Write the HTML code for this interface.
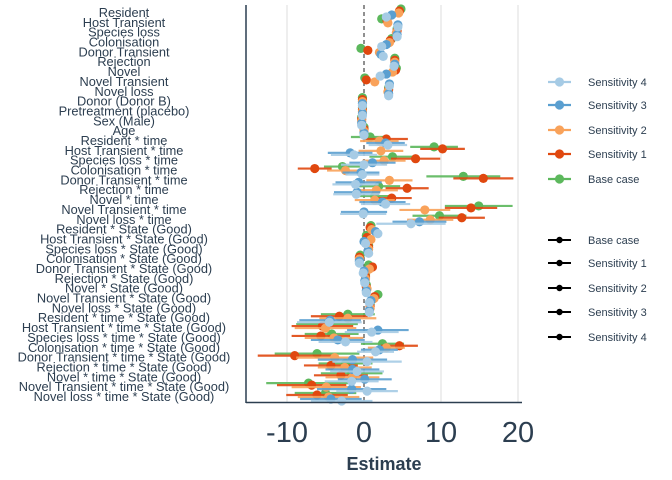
<!DOCTYPE html>
<html><head><meta charset="utf-8"><style>
body{margin:0;background:#fff;}
svg{display:block;font-family:"Liberation Sans",sans-serif;}
</style></head><body>
<svg id="chart" width="672" height="480" viewBox="0 0 672 480">
<g id="grid"></g><g id="marks"></g><g id="ylabels"></g><g id="xaxis"></g><g id="legend"></g>
</svg>
<script>
const terms = ["Resident","Host Transient","Species loss","Colonisation","Donor Transient","Rejection","Novel","Novel Transient","Novel loss","Donor (Donor B)","Pretreatment (placebo)","Sex (Male)","Age",
"Resident * time","Host Transient * time","Species loss * time","Colonisation * time","Donor Transient * time","Rejection * time","Novel * time","Novel Transient * time","Novel loss * time",
"Resident * State (Good)","Host Transient * State (Good)","Species loss * State (Good)","Colonisation * State (Good)","Donor Transient * State (Good)","Rejection * State (Good)","Novel * State (Good)","Novel Transient * State (Good)","Novel loss * State (Good)",
"Resident * time * State (Good)","Host Transient * time * State (Good)","Species loss * time * State (Good)","Colonisation * time * State (Good)","Donor Transient * time * State (Good)","Rejection * time * State (Good)","Novel * time * State (Good)","Novel Transient * time * State (Good)","Novel loss * time * State (Good)"];
const seriesNames = ["Base case","Sensitivity 1","Sensitivity 2","Sensitivity 3","Sensitivity 4"];
const baseEst = [4.8,2.3,4.3,3.6,-0.4,4.0,4.2,0.1,3.2,-0.2,-0.2,-0.3,0.0, 0.8,9.1,3.7,-2.8,12.9,1.9,1.4,14.9,9.8, 0.9,0.3,0.6,-0.5,0.6,0.2,0.3,1.8,0.8, -2.1,-4.8,-4.2,2.4,-6.1,-2.4,-1.6,-7.2,-5.0];
const s1Est = [4.6,3.0,4.3,3.4,0.5,4.0,4.1,0.3,3.2,-0.2,-0.2,-0.3,0.0, 2.9,10.2,6.7,-6.4,15.5,5.6,3.6,13.9,12.7, 0.8,0.4,0.6,-0.6,1.1,0.2,0.3,1.4,0.8, -3.2,-5.4,-5.6,4.6,-9.0,-4.3,-3.0,-6.8,-6.1];
const s2Est = [4.5,3.1,4.2,3.3,2.0,4.0,3.7,1.4,3.1,-0.2,-0.2,-0.3,0.0, 2.0,2.2,2.6,-2.4,3.3,1.6,1.4,7.9,8.6, 1.0,0.9,0.6,-0.6,0.7,0.2,0.4,1.3,0.8, -2.1,-5.0,-3.9,2.9,-3.8,-2.5,-1.5,-4.9,-4.6];
const s3Est = [3.6,4.4,4.3,2.9,2.2,4.0,2.9,3.3,3.2,-0.2,-0.2,-0.3,0.0, 2.8,-1.8,1.1,-0.4,-0.7,-0.9,2.4,0.0,7.2, 1.5,0.0,0.5,-0.6,0.0,0.1,0.3,0.9,0.7, -4.4,1.8,-3.4,2.0,-1.5,-1.5,0.1,-1.6,-4.3];
const s4Est = [2.9,4.4,4.3,2.3,2.5,3.9,2.1,3.3,3.2,-0.2,-0.2,-0.3,0.0, 3.1,-1.3,0.0,-0.2,-1.1,-1.0,2.8,-0.1,6.1, 1.8,0.2,0.6,-0.6,-0.1,0.1,0.3,0.7,0.7, -4.5,1.0,-2.4,1.5,0.4,-0.9,-1.6,0.4,-2.9];
const baseCI = [0.3,0.3,0.3,0.3,0.4,0.3,0.3,0.4,0.3,0.1,0.1,0.1,0.1, 2.5,3.1,3.0,2.4,4.8,2.8,2.6,4.4,3.5, 0.5,0.5,0.4,0.4,0.5,0.4,0.4,0.6,0.4, 3.5,4.0,3.5,2.8,5.5,3.5,4.0,5.5,4.0];
const s1CI = [0.3,0.3,0.3,0.3,0.3,0.3,0.3,0.4,0.3,0.1,0.1,0.1,0.1, 2.8,2.9,3.2,2.2,3.9,2.8,2.6,3.4,3.0, 0.5,0.5,0.4,0.4,0.5,0.4,0.4,0.6,0.4, 3.7,4.0,3.8,2.4,4.8,3.5,3.5,4.5,4.0];
const s2CI = [0.3,0.3,0.3,0.3,0.3,0.3,0.3,0.4,0.3,0.1,0.1,0.1,0.1, 2.5,2.9,2.8,2.4,3.0,2.8,2.6,3.3,3.0, 0.5,0.5,0.4,0.4,0.5,0.4,0.4,0.6,0.4, 3.7,4.0,3.8,2.4,5.0,3.5,3.5,4.5,4.0];
const s3CI = [0.3,0.3,0.3,0.3,0.3,0.3,0.3,0.4,0.3,0.1,0.1,0.1,0.1, 2.5,2.9,3.0,2.4,3.0,3.0,3.0,3.0,3.5, 0.5,0.5,0.4,0.4,0.5,0.4,0.4,0.6,0.4, 4.0,4.0,3.5,2.4,4.5,3.5,3.5,4.5,4.0];
const s4CI = [0.3,0.3,0.3,0.3,0.3,0.3,0.3,0.4,0.3,0.1,0.1,0.1,0.1, 2.5,3.0,3.0,2.2,3.0,3.0,3.2,3.0,4.5, 0.5,0.5,0.4,0.4,0.5,0.4,0.4,0.6,0.4, 4.2,3.5,3.5,2.4,4.5,3.5,3.5,4.0,4.0];
const xTicks = [-10,0,10,20];

const NS="http://www.w3.org/2000/svg";
function el(tag,attrs,parent){const e=document.createElementNS(NS,tag);for(const k in attrs)e.setAttribute(k,attrs[k]);parent.appendChild(e);return e;}
const xS=v=>364+7.7*v;
const yS=i=>13+i*(384/39);
const colors=["#5CB85C","#E0480F","#F9A25A","#5A9FD0","#A6CBE5"];
const ests=[baseEst,s1Est,s2Est,s3Est,s4Est];
const cis=[baseCI,s1CI,s2CI,s3CI,s4CI];
const offs=[-4,-2,0,2,4];

const grid=document.getElementById('grid');
xTicks.forEach(t=>{
  if(t===0)return;
  const g=el('line',{x1:xS(t),x2:xS(t),y1:5,y2:402,stroke:"#e3e3e3","stroke-width":1.2},grid);
  
  
});
const zl=el('line',{x1:xS(0),x2:xS(0),y1:5,y2:402,stroke:"#222","stroke-width":1,"stroke-dasharray":"4,3"},grid);



const marks=document.getElementById('marks');
for(let s=0;s<5;s++){
  const g=el('g',{},marks);
  
  
  terms.forEach((t,i)=>{
    const y=yS(i)+offs[s], v=ests[s][i], c=cis[s][i];
    const ln=el('line',{x1:xS(v-c),x2:xS(v+c),y1:y,y2:y,stroke:colors[s],"stroke-width":2.2,opacity:0.9},g);
    
    
    const p=el('circle',{cx:xS(v),cy:y,r:4.6,fill:colors[s]},g);
    
    
  });
}

const yl=document.getElementById('ylabels');
terms.forEach((t,i)=>{
  const tx=el('text',{x:124,y:yS(i)+4,"text-anchor":"middle","font-size":12.8,fill:"#2c3e50"},yl);
  tx.textContent=t;
  
  
});

const xa=document.getElementById('xaxis');
const la=el('line',{x1:246,x2:246,y1:5,y2:403,stroke:"#2c3e50","stroke-width":1.5},xa);


const ba=el('line',{x1:246,x2:522,y1:402.5,y2:402.5,stroke:"#2c3e50","stroke-width":1.5},xa);


xTicks.forEach(t=>{
  const tx=el('text',{x:xS(t),y:442,"text-anchor":"middle","font-size":29,fill:"#2c3e50"},xa);
  tx.textContent=t<0?"-"+Math.abs(t):String(t);
  
  
});
const xt=el('text',{x:384,y:470,"text-anchor":"middle","font-size":18,"font-weight":"bold",fill:"#2c3e50"},xa);
xt.textContent="Estimate";



const lg=document.getElementById('legend');
const legOrder=[4,3,2,1,0];
const legY=[82,105,130,154,179];
legOrder.forEach((s,k)=>{
  const g=el('g',{},lg);
  
  
  el('line',{x1:548,x2:571,y1:legY[k],y2:legY[k],stroke:colors[s],"stroke-width":2.2},g);
  el('circle',{cx:559.5,cy:legY[k],r:4.6,fill:colors[s]},g);
  const tx=el('text',{x:588,y:legY[k]+4,"font-size":11,fill:"#2c3e50"},g);
  tx.textContent=seriesNames[s];
});
const leg2Y=[240,263,288,312,337];
seriesNames.forEach((n,k)=>{
  const g=el('g',{},lg);
  
  
  el('line',{x1:548,x2:571,y1:leg2Y[k],y2:leg2Y[k],stroke:"#000","stroke-width":2},g);
  el('circle',{cx:559.5,cy:leg2Y[k],r:3.2,fill:"#000"},g);
  const tx=el('text',{x:588,y:leg2Y[k]+4,"font-size":11,fill:"#2c3e50"},g);
  tx.textContent=n;
});
</script>
</body></html>
